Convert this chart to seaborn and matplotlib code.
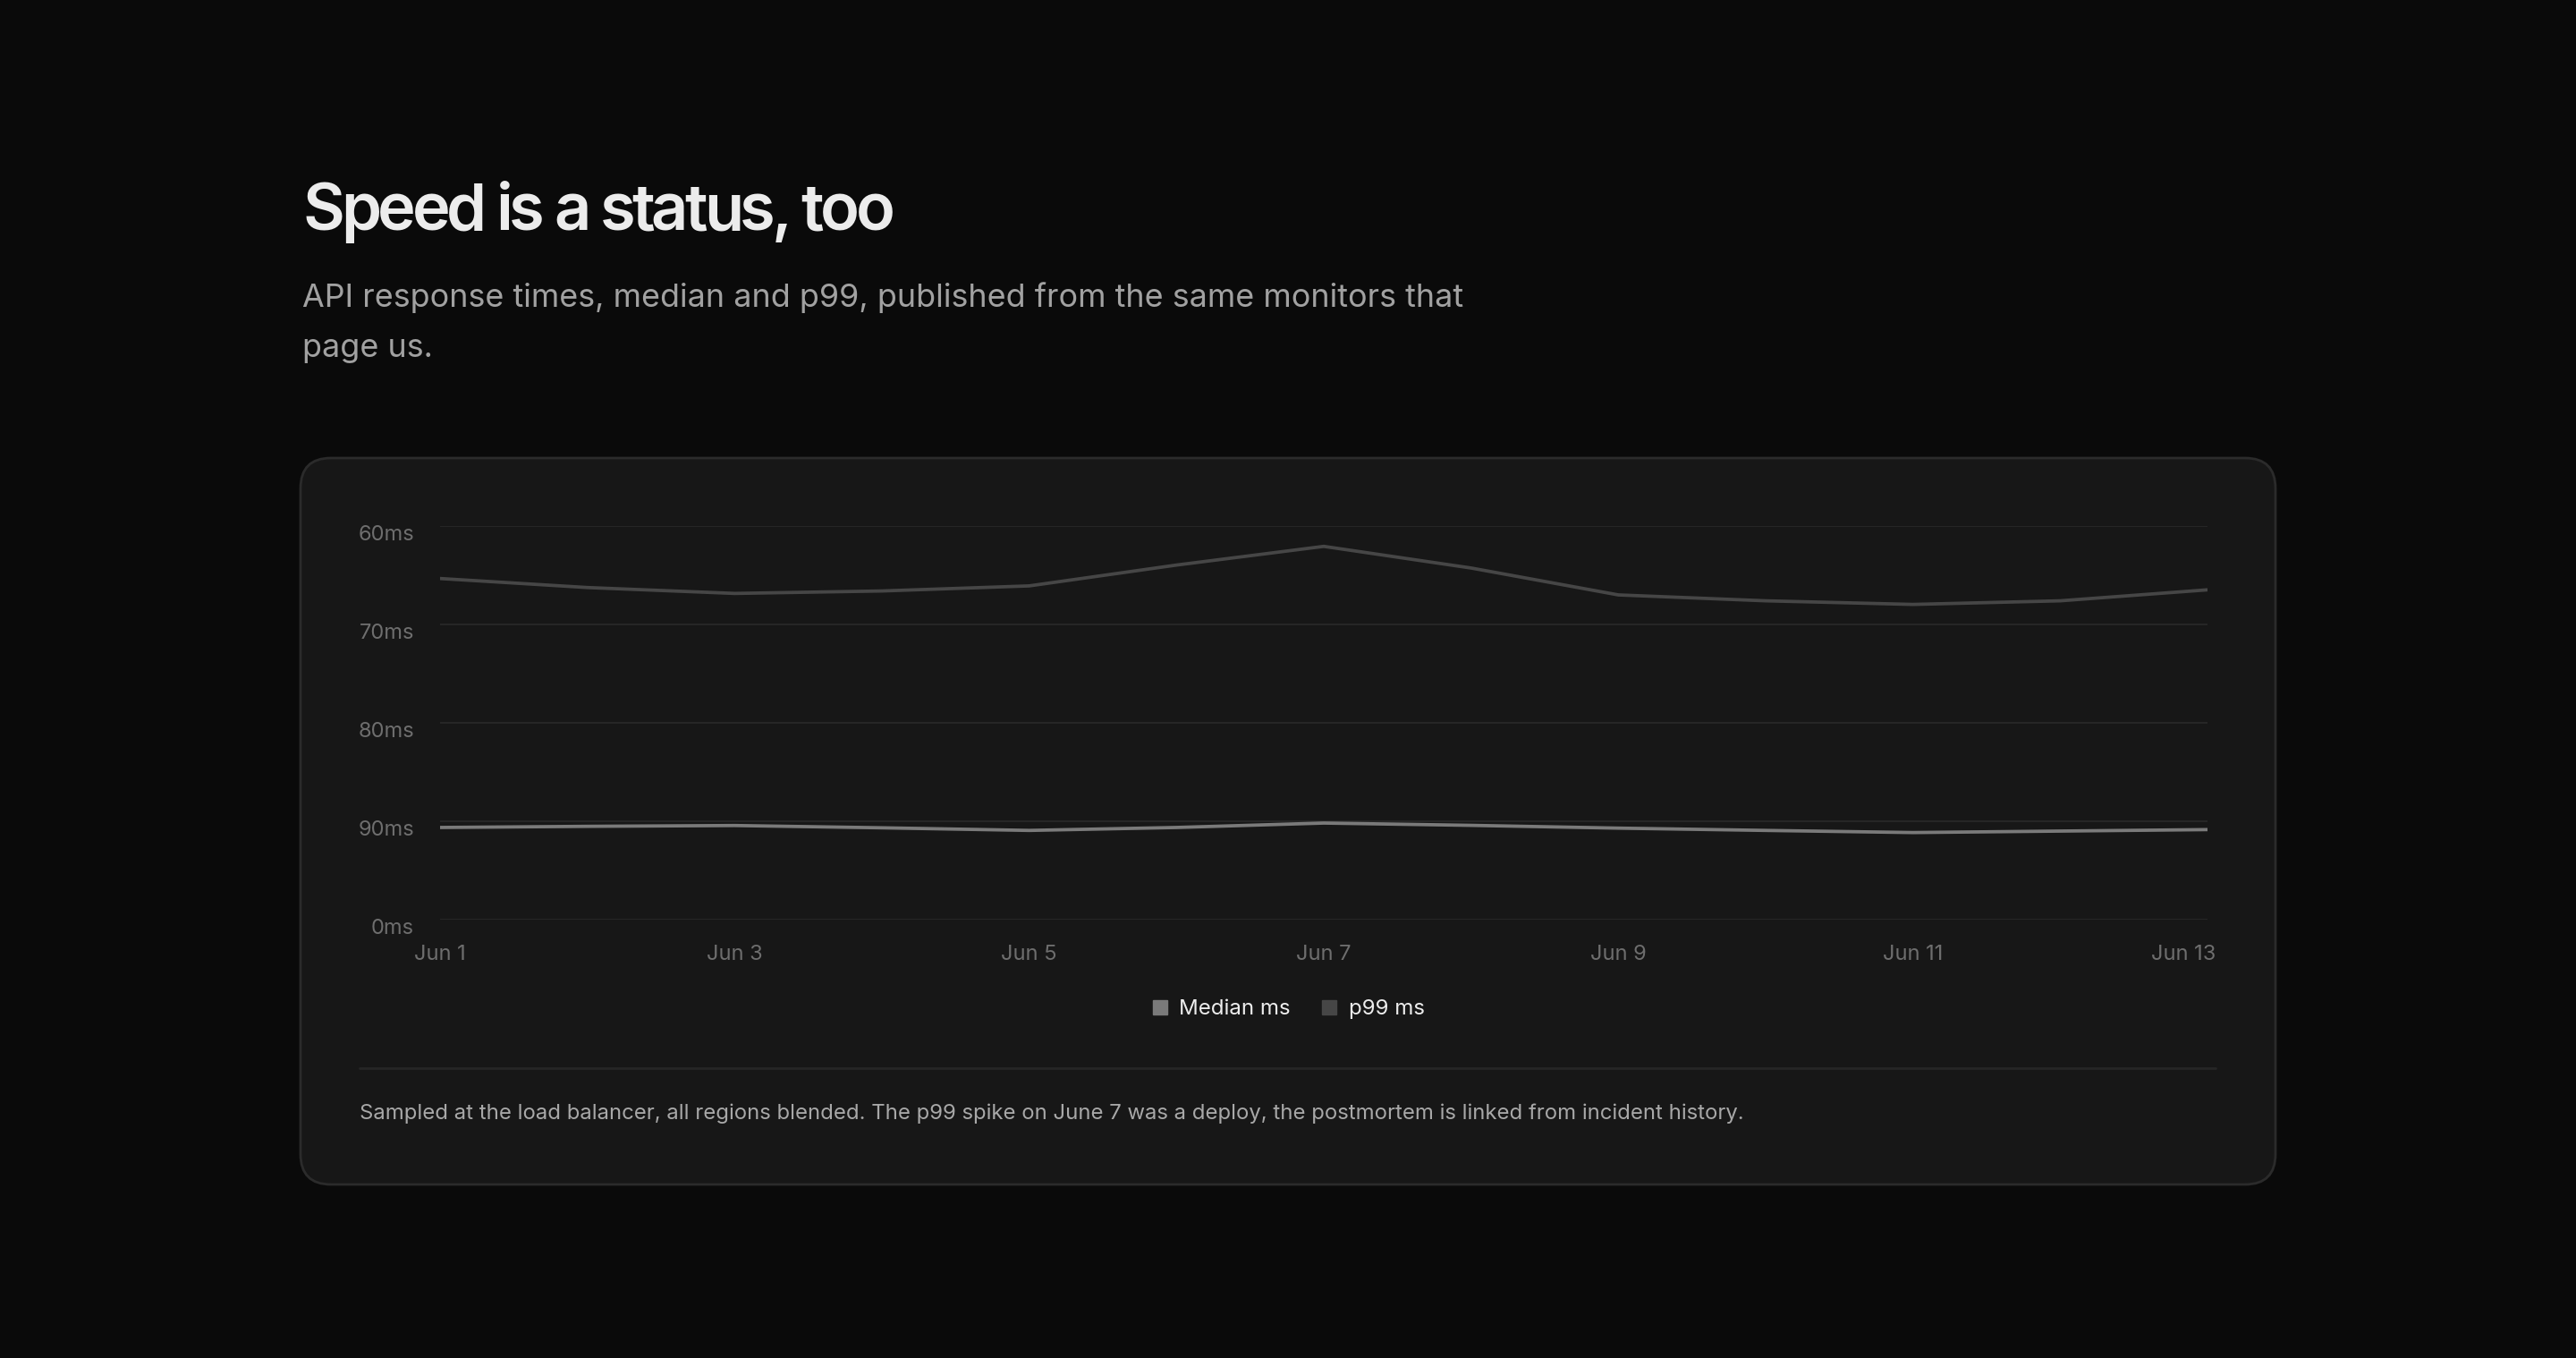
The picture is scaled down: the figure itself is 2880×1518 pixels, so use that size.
import numpy as np
import pandas as pd
import matplotlib.pyplot as plt
import matplotlib.transforms as mtransforms
import seaborn as sns
from matplotlib.patches import FancyBboxPatch
from matplotlib.lines import Line2D
from matplotlib.textpath import TextToPath
from matplotlib.font_manager import FontProperties

# data
days = list(range(1, 14))
day_labels = ["Jun %d" % d for d in days]
median_ms = [56.2, 56.9, 57.4, 56.0, 54.4, 56.2, 58.9, 57.5, 55.8, 54.4, 53.1, 54.0, 54.9]
p99_ms = [208.0, 202.5, 198.9, 200.4, 203.5, 216.2, 227.6, 214.4, 198.0, 194.4, 192.2, 194.4, 201.1]
series_names = ["Median ms", "p99 ms"]
y_ticks = [0, 60, 120, 180, 240]
y_tick_labels = ["0ms", "90ms", "80ms", "70ms", "60ms"]

title = "Speed is a status, too"
subtitle = ["API response times, median and p99, published from the same monitors that",
            "page us."]
footnote = ("Sampled at the load balancer, all regions blended. The p99 spike on June 7 "
            "was a deploy, the postmortem is linked from incident history.")

colors = {"Median ms": "#7a7a7a", "p99 ms": "#464646"}

df = pd.DataFrame({
    "day": days * 2,
    "ms": median_ms + p99_ms,
    "series": [series_names[0]] * len(days) + [series_names[1]] * len(days),
})

sns.set_theme(style="dark")
plt.rcParams['font.family'] = ['Inter', 'DejaVu Sans']

W, H = 2880, 1518
fig = plt.figure(figsize=(W / 100, H / 100), dpi=100, facecolor="#0a0a0a")

# background layer in pixel coordinates
bg = fig.add_axes([0, 0, 1, 1])
bg.set_xlim(0, W)
bg.set_ylim(H, 0)
bg.axis("off")
bg.set_facecolor("#0a0a0a")

card = FancyBboxPatch((336, 512), 2208, 812, boxstyle="round,pad=0,rounding_size=34",
                      facecolor="#171717", edgecolor="#2b2b2b", linewidth=2)
bg.add_patch(card)
bg.plot([402, 2477], [1194, 1194], color="#262626", lw=2)

# title with tight letter spacing, drawn char by char
title_fp = FontProperties(family="Inter", weight="semibold", size=52)
t2p = TextToPath()
def text_px(s):
    w, h, d = t2p.get_text_width_height_descent(s, title_fp, ismath=False)
    return w * 100 / 72
natural = text_px(title)
track = (663 - natural) / (len(title) - 1)
for i, ch in enumerate(title):
    if ch == " ":
        continue
    bg.text(338 + text_px(title[:i]) + i * track, 257, ch, color="#ececec",
            fontproperties=title_fp, va="baseline")

bg.text(338, 343, subtitle[0], color="#a1a1a1", fontsize=25.8, va="baseline")
bg.text(338, 399, subtitle[1], color="#a1a1a1", fontsize=25.8, va="baseline")
bg.text(402, 1245, footnote, color="#a8a8a8", fontsize=17.2, va="center")

# chart
ax = fig.add_axes([492 / W, 1 - 1028 / H, 1976 / W, 440 / H])
ax.set_facecolor("none")
sns.lineplot(data=df, x="day", y="ms", hue="series", palette=colors, ax=ax,
             linewidth=2.7, legend=False)
ax.set_xlim(1, 13)
ax.set_ylim(0, 240)
ax.set_yticks(y_ticks)
ax.set_yticklabels(y_tick_labels)
ax.set_xticks(days[::2])
ax.set_xticklabels(day_labels[::2])
ax.set_xlabel("")
ax.set_ylabel("")
ax.grid(axis="y", color="#262626", lw=1.5)
ax.grid(axis="x", visible=False)
ax.set_axisbelow(True)
for s in ax.spines.values():
    s.set_visible(False)
ax.tick_params(axis="both", length=0, colors="#6e6e6e", labelsize=17)
ax.tick_params(axis="y", pad=21)
ax.tick_params(axis="x", pad=20)

# y labels sit a little below their grid lines, last x label pulled inside
down = mtransforms.ScaledTranslation(0, -0.08, fig.dpi_scale_trans)
for lab in ax.get_yticklabels():
    lab.set_transform(lab.get_transform() + down)
last = ax.get_xticklabels()[-1]
last.set_horizontalalignment("right")
last.set_transform(last.get_transform() + mtransforms.ScaledTranslation(0.09, 0, fig.dpi_scale_trans))

handles = [Line2D([], [], marker="s", linestyle="none", markersize=11,
                  markerfacecolor=colors[n], markeredgecolor=colors[n], label=n)
           for n in series_names]
ax.legend(handles=handles, loc="center", bbox_to_anchor=(1440 / W, 1 - 1128 / H),
          bbox_transform=fig.transFigure, ncol=2, frameon=False, fontsize=17.3,
          labelcolor="#ededed", handlelength=0.8, handletextpad=0.5, columnspacing=1.4)

fig.savefig("out.png", dpi=100, facecolor=fig.get_facecolor())
